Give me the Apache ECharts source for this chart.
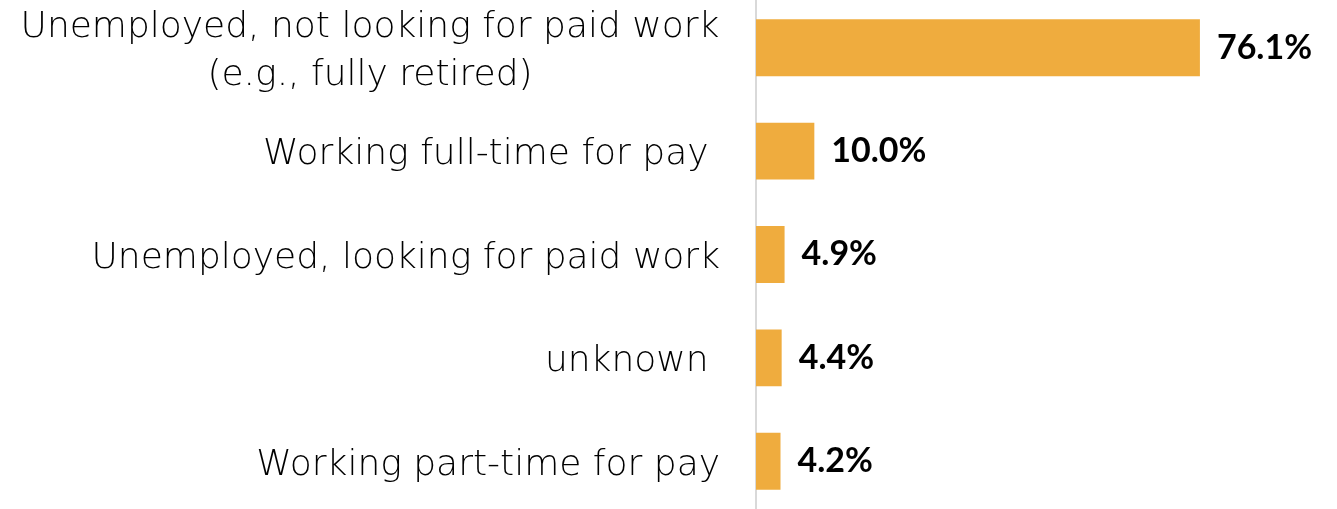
<!DOCTYPE html>
<html>
<head>
<meta charset="utf-8">
<script src="https://cdn.jsdelivr.net/npm/echarts@6/dist/echarts.min.js"></script>
<style>
html,body{margin:0;padding:0;background:#fff;overflow:hidden;width:1337px;height:509px;}
#chart{width:1337px;height:517px;margin-top:-4px;}
</style>
</head>
<body>
<div id="chart"></div>
<script>
var categories = [
  "Unemployed, not looking for paid work\n(e.g., fully retired)",
  "Working full-time for pay ",
  "Unemployed, looking for paid work",
  "unknown ",
  "Working part-time for pay"
];
var values = [76.1, 10.0, 4.9, 4.4, 4.2];

var chart = echarts.init(document.getElementById('chart'), null, {renderer: 'canvas'});
chart.setOption({
  animation: false,
  grid: {left: 756, top: 0, width: 525, height: 517, containLabel: false},
  xAxis: {
    type: 'value', min: 0, max: 90,
    show: false
  },
  yAxis: {
    type: 'category',
    inverse: true,
    data: categories,
    axisLine: {show: true, lineStyle: {color: '#D9D9D9', width: 2}},
    axisTick: {show: false},
    splitLine: {show: false},
    axisLabel: {
      margin: 36,
      fontFamily: 'DejaVu Sans',
      fontWeight: 200,
      fontSize: 36,
      color: '#000',
      padding: [8, 0, 0, 0],
      formatter: function (v) {
        if (v.indexOf('\n') >= 0) {
          var parts = v.split('\n');
          return parts.map(function (p) { return '{c|' + p + '}'; }).join('\n');
        }
        return v;
      },
      rich: {
        c: {width: 700, align: 'center', fontFamily: 'DejaVu Sans', fontWeight: 200, fontSize: 36, color: '#000', lineHeight: 48}
      }
    }
  },
  series: [{
    type: 'bar',
    data: values,
    barCategoryGap: '45%',
    itemStyle: {color: '#EFAC3E'},
    label: {
      show: true,
      position: 'right',
      distance: 17,
      fontFamily: 'Lato',
      fontWeight: 'bold',
      fontSize: 34,
      color: '#000',
      padding: [4, 0, 0, 0],
      formatter: function (p) { return p.value.toFixed(1) + '%'; }
    }
  }]
});
</script>
</body>
</html>
